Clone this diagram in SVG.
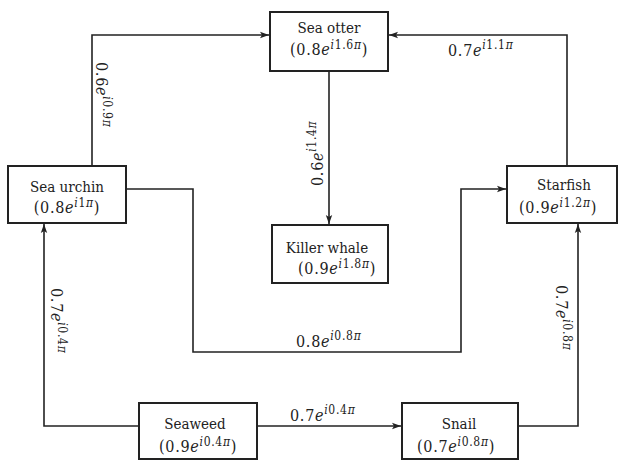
<svg xmlns="http://www.w3.org/2000/svg" width="623" height="461" viewBox="0 0 623 461">
<defs>
<marker id="arr" markerWidth="10" markerHeight="8" refX="9" refY="4" orient="auto" markerUnits="userSpaceOnUse">
<path d="M0,0.8 L9,4 L0,7.2 L2,4 Z" fill="#222"/>
</marker>
<style>
.box{fill:#fff;stroke:#222;stroke-width:2}
.edge{fill:none;stroke:#222;stroke-width:1.6}
text{fill:#222;font-family:"DejaVu Serif Condensed","DejaVu Serif",serif;font-stretch:condensed}
.t{font-size:15px;text-anchor:middle}
.tm{font-size:16px;text-anchor:middle;letter-spacing:0.7px}
.m{font-size:16px;letter-spacing:0.7px}
.it{font-style:italic}
.sup{font-size:12px}
</style>
</defs>
<rect width="623" height="461" fill="#fff"/>
<g id="connectors">
<path class="edge" d="M92,166 V35 H269" marker-end="url(#arr)"/>
<path class="edge" d="M567,166 V35 H389" marker-end="url(#arr)"/>
<path class="edge" d="M329,71 V224" marker-end="url(#arr)"/>
<path class="edge" d="M126,189 H193 V352 H461 V189 H506" marker-end="url(#arr)"/>
<path class="edge" d="M139,426 H44 V224" marker-end="url(#arr)"/>
<path class="edge" d="M257,426 H401" marker-end="url(#arr)"/>
<path class="edge" d="M518,426 H578 V224" marker-end="url(#arr)"/>
<text class="m" transform="translate(96,62) rotate(90)">0.6<tspan class="it">e</tspan><tspan class="sup" dy="-7"><tspan class="it">i</tspan>0.9<tspan class="it">π</tspan></tspan></text>
<text class="m" transform="translate(323,186) rotate(-90)">0.6<tspan class="it">e</tspan><tspan class="sup" dy="-7"><tspan class="it">i</tspan>1.4<tspan class="it">π</tspan></tspan></text>
<text class="m" x="448" y="56">0.7<tspan class="it">e</tspan><tspan class="sup" dy="-7"><tspan class="it">i</tspan>1.1<tspan class="it">π</tspan></tspan></text>
<text class="m" transform="translate(51,288) rotate(90)">0.7<tspan class="it">e</tspan><tspan class="sup" dy="-7"><tspan class="it">i</tspan>0.4<tspan class="it">π</tspan></tspan></text>
<text class="m" transform="translate(556,285) rotate(90)">0.7<tspan class="it">e</tspan><tspan class="sup" dy="-7"><tspan class="it">i</tspan>0.8<tspan class="it">π</tspan></tspan></text>
<text class="m" x="296" y="347">0.8<tspan class="it">e</tspan><tspan class="sup" dy="-7"><tspan class="it">i</tspan>0.8<tspan class="it">π</tspan></tspan></text>
<text class="m" x="290" y="421">0.7<tspan class="it">e</tspan><tspan class="sup" dy="-7"><tspan class="it">i</tspan>0.4<tspan class="it">π</tspan></tspan></text>
</g>
<g id="sea-otter">
<rect class="box" x="270" y="12" width="118" height="59"/>
<text class="t" x="329" y="33">Sea otter</text>
<text class="tm" x="329" y="55">(0.8<tspan class="it">e</tspan><tspan class="sup" dy="-6"><tspan class="it">i</tspan>1.6<tspan class="it">π</tspan></tspan><tspan dy="6">)</tspan></text>
</g>
<g id="sea-urchin">
<rect class="box" x="8" y="166" width="118" height="57"/>
<text class="t" x="67" y="192">Sea urchin</text>
<text class="tm" x="67" y="213">(0.8<tspan class="it">e</tspan><tspan class="sup" dy="-6"><tspan class="it">i</tspan>1<tspan class="it">π</tspan></tspan><tspan dy="6">)</tspan></text>
</g>
<g id="starfish">
<rect class="box" x="507" y="166" width="110" height="57"/>
<text class="t" x="564" y="190">Starfish</text>
<text class="tm" x="558" y="213">(0.9<tspan class="it">e</tspan><tspan class="sup" dy="-6"><tspan class="it">i</tspan>1.2<tspan class="it">π</tspan></tspan><tspan dy="6">)</tspan></text>
</g>
<g id="killer-whale">
<rect class="box" x="272" y="225" width="116" height="58"/>
<text class="t" x="327" y="253">Killer whale</text>
<text class="tm" x="337" y="274">(0.9<tspan class="it">e</tspan><tspan class="sup" dy="-6"><tspan class="it">i</tspan>1.8<tspan class="it">π</tspan></tspan><tspan dy="6">)</tspan></text>
</g>
<g id="seaweed">
<rect class="box" x="139" y="403" width="118" height="56"/>
<text class="t" x="195" y="429">Seaweed</text>
<text class="tm" x="198" y="452">(0.9<tspan class="it">e</tspan><tspan class="sup" dy="-6"><tspan class="it">i</tspan>0.4<tspan class="it">π</tspan></tspan><tspan dy="6">)</tspan></text>
</g>
<g id="snail">
<rect class="box" x="402" y="403" width="116" height="56"/>
<text class="t" x="459" y="429">Snail</text>
<text class="tm" x="456" y="452">(0.7<tspan class="it">e</tspan><tspan class="sup" dy="-6"><tspan class="it">i</tspan>0.8<tspan class="it">π</tspan></tspan><tspan dy="6">)</tspan></text>
</g>
</svg>
